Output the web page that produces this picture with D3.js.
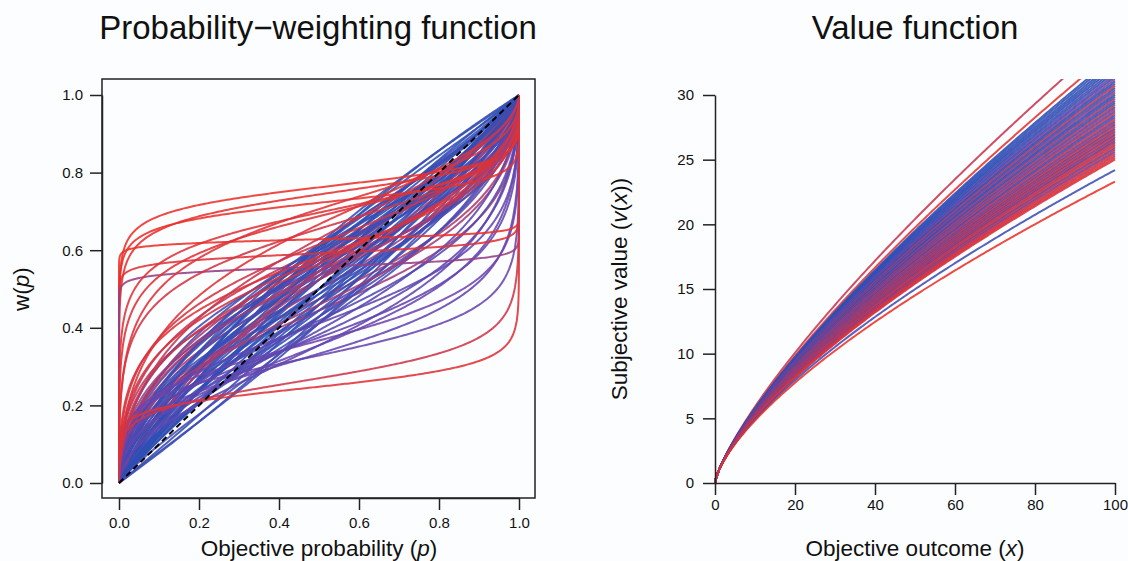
<!DOCTYPE html>
<html>
<head>
<meta charset="utf-8">
<script src="https://cdn.jsdelivr.net/npm/d3@7"></script>
<style>
  body { margin: 0; background: #fcfdff; }
  text { font-family: "Liberation Sans", Arial, sans-serif; fill: #111; }
</style>
</head>
<body>
<svg width="1128" height="561"></svg>
<script>
// fitted parameters per subject
// probability weighting: w(p) = d p^g / (d p^g + (1-p)^g)
var pwfGamma = [
    0.95, 0.90, 0.85, 0.80, 0.50, 0.75, 0.70, 0.65, 0.60, 0.45,
    0.90, 0.85, 0.80, 0.75, 0.50, 0.70, 0.65, 0.60, 0.55, 0.55,
    1.00, 1.00, 0.95, 0.90, 0.60, 0.85, 0.80, 0.75, 0.70, 0.45,
    0.65, 0.60, 0.55, 0.90, 0.60, 0.95, 1.00, 1.00, 0.95, 0.55,
    0.85, 0.80, 0.70, 0.65, 0.70, 0.60, 0.75, 0.70, 0.80, 0.80,
    0.90, 0.85, 0.75, 0.50, 0.65, 0.55, 0.40,
    0.25, 0.35, 0.40, 0.45, 0.30, 0.50, 0.55, 0.40, 0.60, 0.50,
    0.17, 0.20, 0.14, 0.03, 0.05, 0.04, 0.15, 0.22, 0.30, 0.35,
    0.26, 0.40, 0.45, 0.45, 0.50, 0.50, 0.55, 0.60
];
var pwfDelta = [
    1.00, 1.10, 1.20, 1.30, 1.50, 1.40, 1.50, 1.55, 1.30, 1.20,
    0.90, 0.85, 0.80, 0.75, 0.90, 0.85, 0.90, 0.95, 1.00, 1.10,
    1.25, 1.50, 1.60, 1.40, 1.00, 1.45, 1.10, 1.00, 1.20, 0.80,
    1.10, 1.15, 1.25, 1.30, 1.40, 1.15, 0.85, 0.75, 0.70, 1.20,
    0.70, 0.95, 0.70, 0.75, 1.10, 0.80, 1.60, 1.35, 1.55, 1.20,
    1.55, 1.00, 1.25, 0.85, 1.35, 1.45, 1.40,
    0.49, 0.50, 0.60, 0.55, 0.58, 0.62, 0.55, 0.70, 0.65, 0.72,
    3.20, 2.90, 2.60, 1.69, 1.45, 1.26, 0.33, 0.37, 2.20, 1.90,
    2.30, 2.40, 1.60, 1.35, 1.15, 1.30, 2.00, 1.70
];
// 0 = red, 1 = blue
var pwfShade = [
    1.00, 0.95, 0.90, 0.95, 0.15, 1.00, 0.90, 0.85, 0.80, 0.20,
    0.95, 1.00, 0.90, 0.85, 0.25, 0.95, 0.90, 0.85, 0.80, 0.20,
    1.00, 0.95, 0.90, 0.85, 0.35, 1.00, 0.90, 0.95, 0.90, 0.30,
    0.80, 0.75, 0.70, 0.95, 0.25, 1.00, 0.95, 0.90, 0.85, 0.20,
    0.80, 0.95, 0.80, 0.75, 0.30, 0.70, 0.85, 0.80, 0.90, 0.25,
    0.95, 1.00, 0.90, 0.30, 0.85, 0.80, 0.05,
    0.55, 0.60, 0.60, 0.55, 0.50, 0.65, 0.60, 0.60, 0.65, 0.70,
    0.00, 0.03, 0.00, 0.00, 0.05, 0.35, 0.05, 0.12, 0.05, 0.10,
    0.05, 0.05, 0.10, 0.10, 0.30, 0.10, 0.05, 0.15
];

// value function: v(x) = x^a
var vfAlpha = [
    0.7709, 0.7625, 0.7592, 0.7578, 0.7563, 0.7550, 0.7537, 0.7523, 0.7510, 0.7497,
    0.7485, 0.7472, 0.7460, 0.7448, 0.7436, 0.7424, 0.7412, 0.7400, 0.7388, 0.7376,
    0.7364, 0.7352, 0.7340, 0.7328, 0.7316, 0.7304, 0.7292, 0.7280, 0.7268, 0.7256,
    0.7244, 0.7232, 0.7221, 0.7210, 0.7199, 0.7188, 0.7178, 0.7168, 0.7158, 0.7148,
    0.7138, 0.7128, 0.7118, 0.7108, 0.7098, 0.7087, 0.7076, 0.7064, 0.7052, 0.7040,
    0.7028, 0.7015, 0.7002, 0.6990, 0.6919, 0.6837
];
var vfShade = [
    0.15, 0.02, 1.00, 0.95, 1.00, 0.90, 1.00, 0.80, 0.95, 0.55,
    0.90, 0.40, 1.00, 0.80, 0.12, 0.90, 0.70, 0.30, 1.00, 0.85,
    0.20, 0.75, 0.90, 0.15, 0.80, 0.25, 0.70, 0.10, 0.85, 0.65,
    0.05, 0.75, 0.20, 0.70, 0.00, 0.80, 0.10, 0.60, 0.05, 0.70,
    0.00, 0.65, 0.15, 0.75, 0.05, 0.30, 0.00, 0.70, 0.10, 0.60,
    0.05, 0.20, 0.00, 0.10, 0.85, 0.00
];

var pTicks = [0, 0.2, 0.4, 0.6, 0.8, 1];
var xTicks = [0, 20, 40, 60, 80, 100];
var vTicks = [0, 5, 10, 15, 20, 25, 30];

var svg = d3.select("svg");
var shade = d3.scaleLinear().domain([0, 0.5, 1]).range(["#ec3029", "#7044ad", "#2a4fb6"]);

// ---------- left panel ----------
var x1 = d3.scaleLinear().domain([0, 1]).range([119, 519]);
var y1 = d3.scaleLinear().domain([0, 1]).range([483, 95]);

svg.append("clipPath").attr("id", "clipL")
    .append("rect").attr("x", 102).attr("y", 79).attr("width", 433).attr("height", 419);

// sampling grid, dense near the ends where the curves are steep
var small = d3.range(-9, -2, 0.25).map(function(e) { return Math.pow(10, e); });
var pGrid = [0].concat(small, d3.range(0.01, 0.9901, 0.005), small.map(function(s) { return 1 - s; }).reverse(), [1]);

function weight(p, g, d) {
    if (p <= 0) return 0;
    if (p >= 1) return 1;
    var a = d * Math.pow(p, g);
    return a / (a + Math.pow(1 - p, g));
}

var line1 = d3.line().x(function(d) { return x1(d[0]); }).y(function(d) { return y1(d[1]); });

var gL = svg.append("g").attr("clip-path", "url(#clipL)");
gL.selectAll("path.pwf")
    .data(pwfGamma.map(function(g, i) { return i; }))
    .enter()
    .append("path")
    .attr("class", "pwf")
    .attr("fill", "none")
    .attr("stroke", function(i) { return shade(pwfShade[i]); })
    .attr("stroke-width", 2)
    .attr("stroke-opacity", 0.88)
    .attr("d", function(i) {
        return line1(pGrid.map(function(p) { return [p, weight(p, pwfGamma[i], pwfDelta[i])]; }));
    });

gL.append("path")
    .attr("fill", "none")
    .attr("stroke", "#000")
    .attr("stroke-width", 2)
    .attr("stroke-dasharray", "6,4")
    .attr("d", line1([[0, 0], [1, 1]]));

svg.append("rect")
    .attr("x", 102).attr("y", 79).attr("width", 433).attr("height", 419)
    .attr("fill", "none").attr("stroke", "#222").attr("stroke-width", 1.5);

var axB1 = svg.append("g").attr("transform", "translate(0,498)")
    .call(d3.axisBottom(x1).tickValues(pTicks).tickFormat(d3.format(".1f")).tickSize(12).tickSizeOuter(0).tickPadding(7));
var axL1 = svg.append("g").attr("transform", "translate(102,0)")
    .call(d3.axisLeft(y1).tickValues(pTicks).tickFormat(d3.format(".1f")).tickSize(12).tickSizeOuter(0).tickPadding(7));

// ---------- right panel ----------
var x2 = d3.scaleLinear().domain([0, 100]).range([715, 1115]);
var y2 = d3.scaleLinear().domain([0, 30]).range([483, 95]);

svg.append("clipPath").attr("id", "clipR")
    .append("rect").attr("x", 699).attr("y", 79).attr("width", 432).attr("height", 419);

var xGrid = [0].concat(d3.range(-3, 0, 0.25).map(function(e) { return Math.pow(10, e); }), d3.range(1, 100.01, 0.5));

var line2 = d3.line().x(function(d) { return x2(d[0]); }).y(function(d) { return y2(d[1]); });

var gR = svg.append("g").attr("clip-path", "url(#clipR)");
gR.selectAll("path.vf")
    .data(vfAlpha.map(function(a, i) { return i; }))
    .enter()
    .append("path")
    .attr("class", "vf")
    .attr("fill", "none")
    .attr("stroke", function(i) { return shade(vfShade[i]); })
    .attr("stroke-width", 2)
    .attr("stroke-opacity", 0.88)
    .attr("d", function(i) {
        return line2(xGrid.map(function(v) { return [v, Math.pow(v, vfAlpha[i])]; }));
    });

var axB2 = svg.append("g").attr("transform", "translate(0,483)")
    .call(d3.axisBottom(x2).tickValues(xTicks).tickSize(12).tickSizeOuter(0).tickPadding(4));
var axL2 = svg.append("g").attr("transform", "translate(715,0)")
    .call(d3.axisLeft(y2).tickValues(vTicks).tickSize(12).tickSizeOuter(0).tickPadding(9));

[axB1, axL1, axB2, axL2].forEach(function(ax) {
    ax.attr("font-size", null).attr("font-family", null);
    ax.selectAll("path.domain").attr("stroke", "#222").attr("stroke-width", 1.5);
    ax.selectAll(".tick line").attr("stroke", "#222").attr("stroke-width", 1.5);
    ax.selectAll(".tick text").style("font-size", "15px").attr("fill", "#111");
});

// ---------- titles ----------
svg.append("text").attr("x", 318).attr("y", 39).attr("text-anchor", "middle")
    .style("font-size", "33px").text("Probability\u2212weighting function");
svg.append("text").attr("x", 915).attr("y", 39).attr("text-anchor", "middle")
    .style("font-size", "33px").text("Value function");

var t1 = svg.append("text").attr("x", 319).attr("y", 556).attr("text-anchor", "middle").style("font-size", "22.5px");
t1.append("tspan").text("Objective probability (");
t1.append("tspan").style("font-style", "italic").text("p");
t1.append("tspan").text(")");

var t2 = svg.append("text").attr("x", 915).attr("y", 556).attr("text-anchor", "middle").style("font-size", "22.5px");
t2.append("tspan").text("Objective outcome (");
t2.append("tspan").style("font-style", "italic").text("x");
t2.append("tspan").text(")");

var t3 = svg.append("text").attr("transform", "translate(29,289) rotate(-90)").attr("text-anchor", "middle").style("font-size", "22.5px");
t3.append("tspan").text("w(");
t3.append("tspan").style("font-style", "italic").text("p");
t3.append("tspan").text(")");

var t4 = svg.append("text").attr("transform", "translate(627,289) rotate(-90)").attr("text-anchor", "middle").style("font-size", "22.5px");
t4.append("tspan").text("Subjective value (");
t4.append("tspan").style("font-style", "italic").text("v");
t4.append("tspan").text("(");
t4.append("tspan").style("font-style", "italic").text("x");
t4.append("tspan").text("))");
</script>
</body>
</html>
